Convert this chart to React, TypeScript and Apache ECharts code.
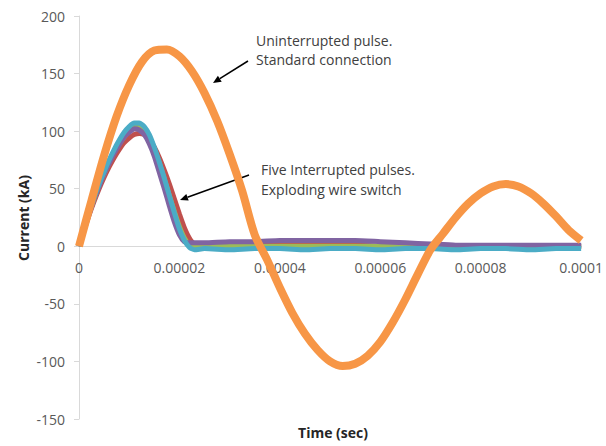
import React, { useEffect, useRef } from "react";
import * as echarts from "echarts";

// ---- data (time in microseconds, current in kA) ----
const xTickLabels = ["0", "0.00002", "0.00004", "0.00006", "0.00008", "0.0001"];
const yTicks = [-150, -100, -50, 0, 50, 100, 150, 200];

const orangeTime = [
  0, 2.5, 5, 7.5, 10, 12.5, 15, 17.5, 20, 22.5, 25, 27.5, 30, 32.5, 35, 37.5, 40,
  42.5, 45, 47.5, 50, 52.5, 55, 57.5, 60, 62.5, 65, 67.5, 70, 72.5, 75, 77.5, 80,
  82.5, 85, 87.5, 90, 92.5, 95, 97.5, 100,
];
const orangeCurrent = [
  0, 40, 79, 113, 140, 160, 170, 171, 165, 152, 133, 109, 80, 48, 10, -12, -36,
  -58, -76, -90, -100, -104, -102, -95, -83, -66, -46, -24, -3, 11, 25, 37, 46,
  52, 54, 52, 46, 37, 26, 14, 5,
];

const pulseTime = [
  0, 1, 2, 3, 4, 5, 6, 7, 8, 9, 10, 11, 12, 13, 14, 15, 16, 17, 18, 19, 20, 21,
  22, 23, 25, 30, 35, 40, 45, 50, 55, 60, 65, 70, 75, 80, 85, 90, 95, 100,
];
const pulseBlue = [
  0, 15, 29, 41, 53, 63, 73, 82, 90, 96, 101, 104, 104, 101, 95, 85, 73, 59, 45,
  31, 18, 8, 2, 0, 0, 1, 0, 1, 0, 0, 1, 0, 0, 0, 0, -1, 0, 0, 0, 0,
];
const pulseRed = [
  0, 14, 27, 39, 50, 60, 69, 77, 84, 90, 94, 97, 98, 97, 93, 86, 77, 66, 54, 41,
  28, 16, 7, 2, 1, 1, 1, 1, 1, 1, 1, 0, 0, 0, 0, 0, 0, 0, 0, 0,
];
const pulseGreen = [
  0, 15, 29, 41, 53, 63, 73, 82, 89, 95, 100, 103, 103, 100, 94, 84, 72, 58, 44,
  30, 17, 7, 1, 0, 0, 0, 0, 0, 0, 0, 0, 0, 0, 0, 0, 0, 0, 0, 0, 0,
];
const pulsePurple = [
  0, 15, 28, 41, 52, 63, 72, 81, 88, 95, 99, 102, 101, 97, 89, 78, 64, 50, 35, 21,
  10, 4, 3, 3, 3, 4, 4, 5, 5, 5, 5, 4, 3, 2, 1, 1, 1, 1, 1, 1,
];
const pulseTeal = [
  0, 15, 29, 42, 54, 65, 75, 84, 92, 99, 104, 107, 107, 104, 97, 86, 73, 59, 44,
  29, 15, 5, -1, -3, -2, -3, -2, -2, -3, -2, -2, -3, -2, -2, -3, -2, -2, -3, -2, -2,
];

const pulses = [
  { name: "Pulse 1", values: pulseBlue, color: "#4F81BD" },
  { name: "Pulse 2", values: pulseRed, color: "#C0504D" },
  { name: "Pulse 3", values: pulseGreen, color: "#9BBB59" },
  { name: "Pulse 4", values: pulsePurple, color: "#8064A2" },
  { name: "Pulse 5", values: pulseTeal, color: "#4BACC6" },
];

const FONT = "'Open Sans', 'Noto Sans', sans-serif";

const GRID_TOP = 16;
const GRID_BOTTOM = 27;
const CHART_H = 446;

export default function App() {
  const ref = useRef<HTMLDivElement>(null);
  useEffect(() => {
    if (!ref.current) return;
    const chart = echarts.init(ref.current, undefined, { renderer: "svg" });
    const yMin = yTicks[0];
    const yMax = yTicks[yTicks.length - 1];
    const plotH = CHART_H - GRID_TOP - GRID_BOTTOM;
    // distance from bottom of the grid up to the zero line
    const zeroOffset = (plotH * (0 - yMin)) / (yMax - yMin);

    const series: any[] = pulses.map((p) => ({
      name: p.name,
      type: "line",
      showSymbol: false,
      smooth: 0.2,
      data: pulseTime.map((t, i) => [t, p.values[i]]),
      lineStyle: { color: p.color, width: 5 },
      itemStyle: { color: p.color },
    }));
    series.push({
      name: "Uninterrupted",
      type: "line",
      showSymbol: false,
      smooth: 0.3,
      data: orangeTime.map((t, i) => [t, orangeCurrent[i]]),
      lineStyle: { color: "#F79646", width: 8 },
      itemStyle: { color: "#F79646" },
    });
    chart.setOption({
      animation: false,
      backgroundColor: "#ffffff",
      grid: { left: 79, right: 19, top: GRID_TOP, bottom: GRID_BOTTOM, containLabel: false },
      xAxis: {
        type: "value",
        min: 0,
        max: 100,
        interval: 20,
        position: "bottom",
        offset: -zeroOffset,
        axisLine: { onZero: false, lineStyle: { color: "#D9D9D9", width: 1 } },
        axisTick: { show: false },
        splitLine: { show: false },
        axisLabel: {
          margin: 14,
          color: "#595959",
          fontSize: 14,
          fontFamily: FONT,
          showMaxLabel: true,
          formatter: (v: number) => xTickLabels[Math.round(v / 20)] ?? "",
        },
      },
      yAxis: {
        type: "value",
        min: yMin,
        max: yMax,
        interval: 50,
        axisLine: { show: true, onZero: false, lineStyle: { color: "#D9D9D9", width: 1 } },
        axisTick: { show: true, length: 5, lineStyle: { color: "#D9D9D9" } },
        splitLine: { show: false },
        axisLabel: {
          margin: 14,
          color: "#595959",
          fontSize: 14,
          fontFamily: FONT,
        },
      },
      graphic: [
        {
          type: "text",
          x: 23,
          y: 218,
          rotation: Math.PI / 2,
          style: {
            text: "Current (kA)",
            fill: "#262626",
            font: `bold 14px ${FONT}`,
            textAlign: "center",
            textVerticalAlign: "middle",
          },
        },
        {
          type: "text",
          x: 333,
          y: 432,
          style: {
            text: "Time (sec)",
            fill: "#262626",
            font: `bold 14px ${FONT}`,
            textAlign: "center",
            textVerticalAlign: "middle",
          },
        },
        {
          type: "text",
          x: 256,
          y: 40,
          style: {
            text: "Uninterrupted pulse.",
            fill: "#404040",
            font: `14px ${FONT}`,
            textAlign: "left",
            textVerticalAlign: "middle",
          },
        },
        {
          type: "text",
          x: 256,
          y: 59,
          style: {
            text: "Standard connection",
            fill: "#404040",
            font: `14px ${FONT}`,
            textAlign: "left",
            textVerticalAlign: "middle",
          },
        },
        {
          type: "text",
          x: 261,
          y: 169,
          style: {
            text: "Five Interrupted pulses.",
            fill: "#404040",
            font: `14px ${FONT}`,
            textAlign: "left",
            textVerticalAlign: "middle",
          },
        },
        {
          type: "text",
          x: 261,
          y: 189,
          style: {
            text: "Exploding wire switch",
            fill: "#404040",
            font: `14px ${FONT}`,
            textAlign: "left",
            textVerticalAlign: "middle",
          },
        },
        {
          type: "line",
          shape: { x1: 248, y1: 61, x2: 219.8, y2: 78.7 },
          style: { stroke: "#000000", lineWidth: 1.5 },
        },
        {
          type: "polygon",
          shape: { points: [[213, 83], [221.7, 81.7], [217.9, 75.7]] },
          style: { fill: "#000000" },
        },
        {
          type: "line",
          shape: { x1: 249, y1: 175, x2: 187.5, y2: 197.3 },
          style: { stroke: "#000000", lineWidth: 1.5 },
        },
        {
          type: "polygon",
          shape: { points: [[180, 200], [188.7, 200.6], [186.3, 194.0]] },
          style: { fill: "#000000" },
        },
      ],
      series,
    });
    return () => chart.dispose();
  }, []);
  return (
    <div
      ref={ref}
      style={{ position: "absolute", left: 0, top: 0, width: 606, height: 446 }}
    />
  );
}
